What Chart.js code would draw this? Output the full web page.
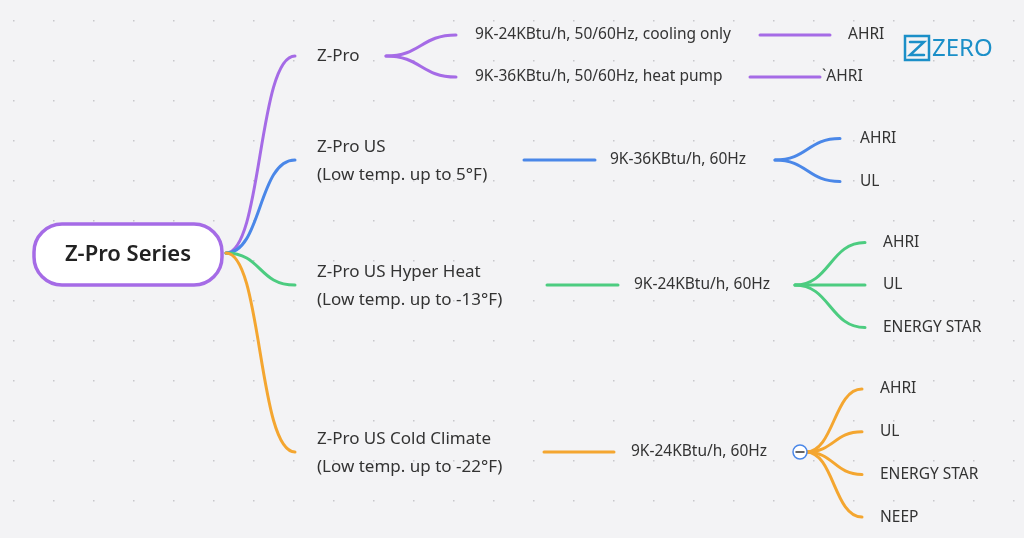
<!DOCTYPE html>
<html><head><meta charset="utf-8">
<script src="https://cdn.jsdelivr.net/npm/chart.js@4"></script>
<style>html,body{margin:0;padding:0;background:#f3f3f5;}#w{width:1024px;height:538px;}</style>
</head><body><div id="w"><canvas id="c"></canvas></div>
<script>
const rootLabel = "Z-Pro Series";
const branchNames = [["Z-Pro"],["Z-Pro US","(Low temp. up to 5°F)"],["Z-Pro US Hyper Heat","(Low temp. up to -13°F)"],["Z-Pro US Cold Climate","(Low temp. up to -22°F)"]];
const branchColors = ["#a56be6","#4a87e8","#4ccc80","#f4a630"];
const specs = [["9K-24KBtu/h, 50/60Hz, cooling only","9K-36KBtu/h, 50/60Hz, heat pump"],["9K-36KBtu/h, 60Hz"],["9K-24KBtu/h, 60Hz"],["9K-24KBtu/h, 60Hz"]];
const certs = [[["AHRI"],["`AHRI"]],[["AHRI","UL"]],[["AHRI","UL","ENERGY STAR"]],[["AHRI","UL","ENERGY STAR","NEEP"]]];

const L = {
  root:{x1:34,y1:224,x2:222,y2:285},
  branch:[{y:56,tx:317},{y:160,tx:317},{y:285,tx:317},{y:452,tx:317}],
};
const F = '"Noto Sans", sans-serif';
function bez(ctx,x0,y0,x1,y1,k){ctx.beginPath();ctx.moveTo(x0,y0);const m=(x1-x0)*(k||0.5);ctx.bezierCurveTo(x0+m,y0,x1-m,y1,x1,y1);ctx.stroke();}
const plug={id:'mm',afterDatasetsDraw(ch){
  const ctx=ch.ctx,sx=ch.scales.x,sy=ch.scales.y;
  const X=v=>sx.getPixelForValue(v),Y=v=>sy.getPixelForValue(v);
  ctx.save();
  ctx.fillStyle='#c8c8cc';
  for(let gx=13;gx<1024;gx+=40)for(let gy=20;gy<538;gy+=40){ctx.fillRect(X(gx),Y(gy),1.5,1.5);}
  ctx.lineCap='round';ctx.lineWidth=3;
  ctx.textBaseline='middle';
  const SF='15.5px '+F;
  ctx.font=SF;
  const rx=X(226),ry=Y(253);
  const wT=(t,x,y)=>{ctx.fillStyle='#333';ctx.fillText(t,X(x),Y(y));};
  branchNames.forEach((nm,i)=>{
    const c=branchColors[i];ctx.strokeStyle=c;
    const by=L.branch[i].y;
    ctx.beginPath();ctx.moveTo(rx,ry);ctx.bezierCurveTo(X(262),ry,X(258),Y(by),X(295),Y(by));ctx.stroke();
    ctx.font='17px '+F;
    if(nm.length==1)wT(nm[0],317,by);else{wT(nm[0],317,by-13);wT(nm[1],317,by+15);}
    ctx.font=SF;
    if(i==0){
      const ys=[35,77];
      ys.forEach((yy,j)=>{ctx.strokeStyle=c;bez(ctx,X(386),Y(by),X(456),Y(yy));wT(specs[0][j],475,yy);
        const lx=j==0?[760,830]:[750,820];ctx.strokeStyle=c;ctx.beginPath();ctx.moveTo(X(lx[0]),Y(yy));ctx.lineTo(X(lx[1]),Y(yy));ctx.stroke();
        wT(certs[0][j][0],j==0?848:822,yy);});
    } else {
      const lx=[[524,595,610,775,840,860],[547,618,634,795,865,883],[544,614,631,806,862,880]][i-1];
      ctx.beginPath();ctx.moveTo(X(lx[0]),Y(by));ctx.lineTo(X(lx[1]),Y(by));ctx.stroke();
      wT(specs[i][0],lx[2],by);
      const cs=certs[i][0];const sp=[0,43,42.5,42.5][i];
      const y0=i==3?389:by-sp*(cs.length-1)/2;
      cs.forEach((t,j)=>{const yy=y0+j*(i==3?42.7:sp);ctx.strokeStyle=c;bez(ctx,X(lx[3]),Y(by),X(lx[4]),Y(yy));wT(t,lx[5],yy);});
      if(i==3){ctx.fillStyle='#fff';ctx.strokeStyle='#4a87e8';ctx.lineWidth=1.5;ctx.beginPath();ctx.arc(X(800),Y(452),7,0,Math.PI*2);ctx.fill();ctx.stroke();
        ctx.strokeStyle='#333';ctx.beginPath();ctx.moveTo(X(796),Y(452));ctx.lineTo(X(804),Y(452));ctx.stroke();ctx.lineWidth=3;}
    }
  });
  const r=L.root;ctx.fillStyle='#fff';ctx.strokeStyle='#a56be6';ctx.lineWidth=3.5;
  ctx.beginPath();ctx.roundRect(X(r.x1),Y(r.y1),X(r.x2)-X(r.x1),Y(r.y2)-Y(r.y1),28);ctx.fill();ctx.stroke();
  ctx.fillStyle='#222';ctx.font='600 22px '+F;ctx.textAlign='center';ctx.fillText(rootLabel,X(128),Y(255));
  ctx.textAlign='left';ctx.strokeStyle='#1b8fc8';ctx.lineWidth=2.5;
  ctx.strokeRect(X(905),Y(36),24,24);
  ctx.beginPath();ctx.moveTo(X(910),Y(42));ctx.lineTo(X(924),Y(42));ctx.lineTo(X(910),Y(55));ctx.lineTo(X(924),Y(55));ctx.stroke();
  ctx.fillStyle='#1b8fc8';ctx.font='24px '+F;ctx.fillText('ZERO',X(932),Y(49));
  ctx.restore();
}};
new Chart(document.getElementById('c'),{type:'scatter',data:{datasets:[{data:[],pointRadius:0}]},
 options:{responsive:true,maintainAspectRatio:false,animation:false,layout:{padding:0},
  plugins:{legend:{display:false},tooltip:{enabled:false}},
  scales:{x:{type:'linear',min:0,max:1024,display:false},y:{type:'linear',min:0,max:538,reverse:true,display:false}}},
 plugins:[plug]});
</script></body></html>
